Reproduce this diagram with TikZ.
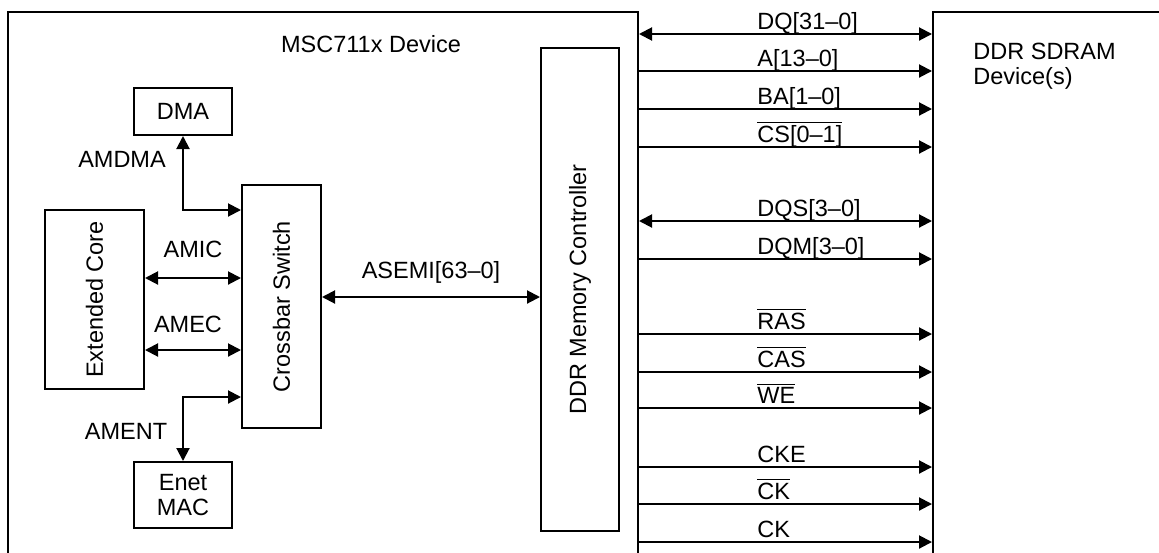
\documentclass[tikz,border=0pt]{standalone}
\usepackage{fontspec}
\setmainfont{Liberation Sans}
\usetikzlibrary{arrows.meta}
\newcommand{\ovl}[1]{$\overline{\mbox{#1}}$}
\tikzset{
  blockbox/.style={draw=black,line width=1pt,inner sep=0pt,align=center},
  busline/.style={line width=1pt},
  siglabel/.style={anchor=base west,inner sep=0pt},
  buslabel/.style={anchor=base,inner sep=0pt},
}

\begin{document}
\begin{tikzpicture}[x=0.5pt,y=-0.5pt,>={Triangle[length=6.5pt,width=6.5pt]},
  font=\fontsize{11.75pt}{12.5pt}\selectfont]
\clip (0,0) rectangle (1159,552);
% the two chips
\node[blockbox,minimum width=315pt,minimum height=294pt] (dev) at (323,306) {};
\node[blockbox,minimum width=133.5pt,minimum height=294pt] (sdram) at (1066.5,306) {};
\node[buslabel] (devname) at (371,52) {MSC711x Device};
\node[anchor=north west,align=left,inner sep=0pt] (sdname) at (973,43) {DDR SDRAM\\Device(s)};
% blocks inside the device
\node[blockbox,minimum width=49pt,minimum height=23.5pt] (dma) at (183,111.5) {DMA};
\node[blockbox,minimum width=49pt,minimum height=33pt] (enet) at (183,495) {Enet\\MAC};
\node[blockbox,minimum width=49.5pt,minimum height=89.5pt,
  label={[rotate=90]center:Extended Core}] (core) at (94.5,299.5) {};
\node[blockbox,minimum width=39.5pt,minimum height=121.5pt,
  label={[rotate=90]center:Crossbar Switch}] (xbar) at (281.5,306.5) {};
\node[blockbox,minimum width=39pt,minimum height=241.5pt,
  label={[rotate=90]center:DDR Memory Controller}] (ddrc) at (580,289.5) {};
% internal buses
\draw[busline,<->] (dma.south) |- (xbar.west |- 0,210);
\draw[busline,<->] (core.east |- 0,278) -- (xbar.west |- 0,278);
\draw[busline,<->] (core.east |- 0,350) -- (xbar.west |- 0,350);
\draw[busline,<->] (xbar.west |- 0,397) -| (enet.north);
\draw[busline,<->] (xbar.east |- 0,297) -- (ddrc.west |- 0,297);
\node[buslabel] (amdma) at (122,167) {AMDMA};
\node[buslabel] (amic) at (193,257) {AMIC};
\node[buslabel] (amec) at (188,332) {AMEC};
\node[buslabel] (ament) at (126,439) {AMENT};
\node[buslabel] (asemi) at (431,278) {ASEMI[63–0]};
% memory interface
\foreach \y/\lab in {34/DQ[31–0],221/DQS[3–0]}{
  \draw[busline,<->] (dev.east |- 0,\y) -- (sdram.west |- 0,\y);
  \node[siglabel] (s\y) at (757,\y-5) {\lab};
}
\foreach \y/\lab in {71/A[13–0],109/BA[1–0],147/{\ovl{CS[0–1]}},259/DQM[3–0],
    334/{\ovl{RAS}},372/{\ovl{CAS}},408/{\ovl{WE}},467/CKE,504/{\ovl{CK}},542/CK}{
  \draw[busline,->] (dev.east |- 0,\y) -- (sdram.west |- 0,\y);
  \node[siglabel] (s\y) at (757,\y-5) {\lab};
}
\end{tikzpicture}
\end{document}
